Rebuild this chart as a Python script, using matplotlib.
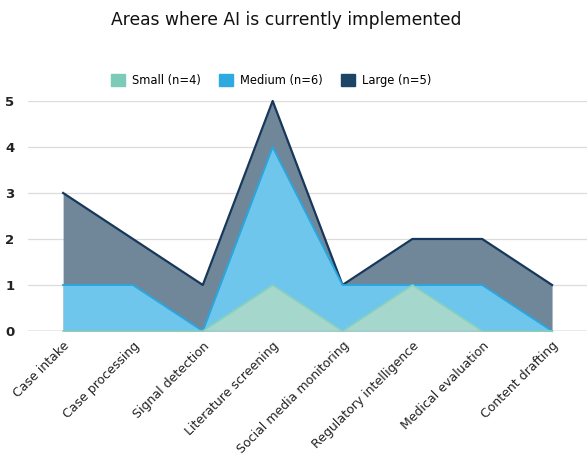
import matplotlib
matplotlib.use("Agg")
import matplotlib.pyplot as plt
from matplotlib.patches import Patch

categories = ["Case intake", "Case processing", "Signal detection", "Literature screening",
              "Social media monitoring", "Regulatory intelligence", "Medical evaluation",
              "Content drafting"]
small = [0, 0, 0, 1, 0, 1, 0, 0]
medium = [1, 1, 0, 4, 1, 1, 1, 0]
large = [3, 2, 1, 5, 1, 2, 2, 1]
series_labels = ["Small (n=4)", "Medium (n=6)", "Large (n=5)"]
y_ticks = [0, 1, 2, 3, 4, 5]

plt.rcParams["font.family"] = ["DejaVu Sans"]

fig = plt.figure(figsize=(5.87, 4.61), dpi=100)
ax = fig.add_axes([0.048, 0.282, 0.952, 0.499])

x = list(range(len(categories)))
# back to front: large, medium, small
ax.fill_between(x, large, color="#6f8799", lw=0, zorder=2)
ax.plot(x, large, color="#17385a", lw=1.6, zorder=3, clip_on=False)
ax.fill_between(x, medium, color="#6fc6ec", lw=0, zorder=4)
ax.plot(x, medium, color="#2aa6df", lw=1.4, zorder=5, clip_on=False)
ax.fill_between(x, small, color="#a6d7cc", lw=0, zorder=6)
ax.plot(x, small, color="#86d0bd", lw=1.2, zorder=7, clip_on=False)

ax.set_xlim(-0.5, 7.5)
ax.set_ylim(0, 5)
ax.set_yticks(y_ticks)
ax.set_yticklabels([str(v) for v in y_ticks], fontsize=9.5, fontweight="bold", color="#222222")
ax.grid(axis="y", color="#dcdcdc", lw=0.9, zorder=0)
ax.axhline(0, color="#aaaaaa", lw=1.0, zorder=8)
ax.tick_params(axis="y", length=0, pad=10)
ax.tick_params(axis="x", length=0, pad=6)
ax.set_xticks(x)
ax.set_xticklabels(categories, rotation=45, ha="right", rotation_mode="anchor",
                   fontsize=9, color="#222222")
for s in ax.spines.values():
    s.set_visible(False)

handles = [Patch(color="#7ccbb8"), Patch(color="#2eaae1"), Patch(color="#1c4466")]
fig.legend(handles, series_labels, loc="center", bbox_to_anchor=(0.462, 0.826), ncol=3,
           frameon=False, fontsize=8.3, handlelength=1.22, handleheight=1.22,
           handletextpad=0.6, columnspacing=1.55)

fig.text(0.488, 0.957, "Areas where AI is currently implemented", ha="center", va="center",
         fontsize=12.3, color="#111111")

fig.savefig("out.png", dpi=100)
